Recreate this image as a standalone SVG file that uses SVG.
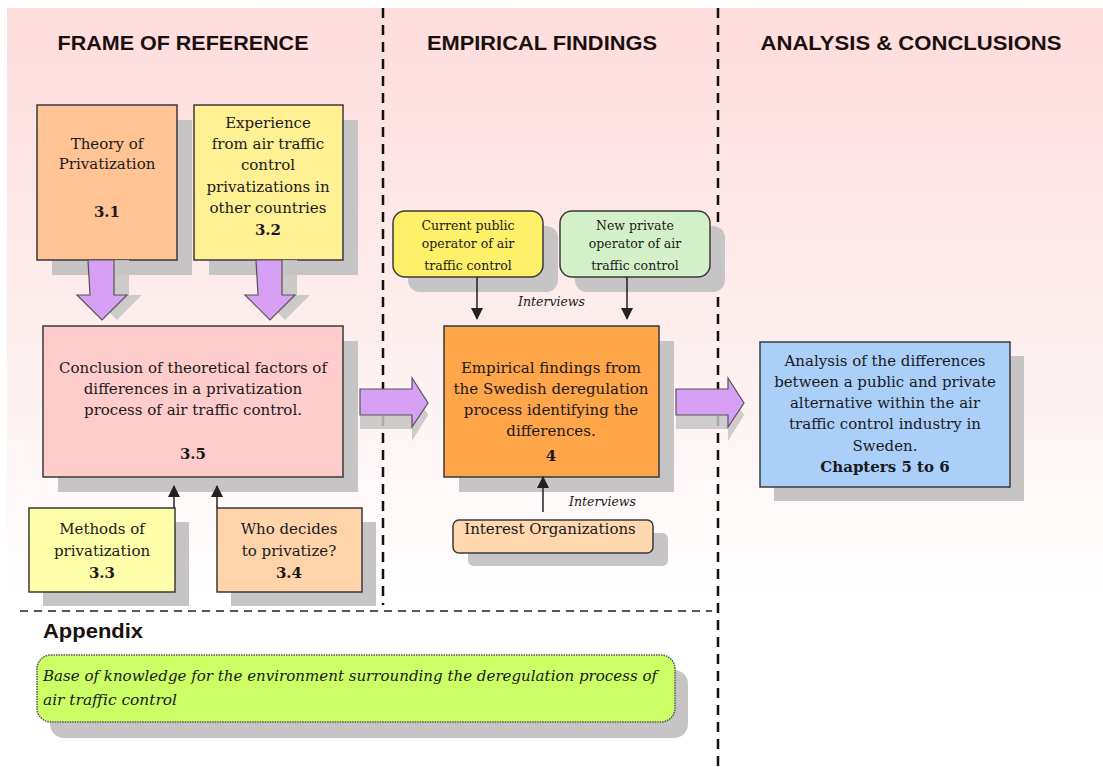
<svg xmlns="http://www.w3.org/2000/svg" width="1103" height="767" viewBox="0 0 1103 767">
<defs>
<linearGradient id="bg" x1="0" y1="8" x2="0" y2="600" gradientUnits="userSpaceOnUse">
<stop offset="0" stop-color="#fedcdc"/>
<stop offset="0.55" stop-color="#fdeeee"/>
<stop offset="1" stop-color="#ffffff"/>
</linearGradient>
<marker id="ah" viewBox="0 0 12 12" refX="11" refY="6" markerWidth="12" markerHeight="12" markerUnits="userSpaceOnUse" orient="auto">
<path d="M0,0 L12,6 L0,12 z" fill="#222"/>
</marker>
<style>
.box{stroke:#3a3a3a;stroke-width:1.5}
.sh{fill:#c6c4c4}
.t{font-family:"DejaVu Serif","Liberation Serif",serif;font-size:15px;fill:#1a1a1a;text-anchor:middle}
.ts{font-family:"DejaVu Serif","Liberation Serif",serif;font-size:12.5px;fill:#1a1a1a;text-anchor:middle}
.b{font-weight:bold}
.h{font-family:"Liberation Sans",Arial,sans-serif;font-size:21px;font-weight:bold;fill:#1a1010;text-anchor:middle}
.it{font-family:"DejaVu Serif","Liberation Serif",serif;font-style:italic;font-size:12.5px;fill:#1a1a1a}
.ia{font-family:"DejaVu Serif","Liberation Serif",serif;font-style:italic;font-size:15px;fill:#1a1a1a}
.pa{fill:#d8a0f4;stroke:#555;stroke-width:1.2}
.con{stroke:#222;stroke-width:1.5;fill:none}
.vd{stroke:#111;stroke-width:2.5;stroke-dasharray:10 7;fill:none}
.hd{stroke:#555;stroke-width:2;stroke-dasharray:8 6;fill:none}
</style>
</defs>
<rect x="0" y="0" width="1103" height="767" fill="#ffffff"/>
<rect x="7" y="8" width="1096" height="759" fill="url(#bg)"/>

<g id="section-lines">
<line class="vd" x1="383" y1="8" x2="383" y2="605"/>
<line class="vd" x1="718" y1="8" x2="718" y2="767"/>
<line class="hd" x1="20" y1="611" x2="712" y2="611"/>
</g>

<g id="headers">
<text class="h" x="183" y="50" textLength="251" lengthAdjust="spacingAndGlyphs">FRAME OF REFERENCE</text>
<text class="h" x="542" y="50" textLength="230" lengthAdjust="spacingAndGlyphs">EMPIRICAL FINDINGS</text>
<text class="h" x="911" y="50" textLength="301" lengthAdjust="spacingAndGlyphs">ANALYSIS &amp; CONCLUSIONS</text>
<text class="h" x="43" y="638" style="text-anchor:start" textLength="100" lengthAdjust="spacingAndGlyphs">Appendix</text>
</g>

<g id="theory">
<rect class="sh" x="52" y="120" width="140" height="155"/>
<rect class="box" x="37" y="105" width="140" height="155" fill="#ffc394"/>
<text class="t" x="107" y="149">Theory of</text>
<text class="t" x="107" y="169">Privatization</text>
<text class="t b" x="107" y="217">3.1</text>
</g>

<g id="experience">
<rect class="sh" x="209" y="120" width="149" height="155"/>
<rect class="box" x="194" y="105" width="149" height="155" fill="#fff094"/>
<text class="t" x="268" y="128">Experience</text>
<text class="t" x="268" y="149">from air traffic</text>
<text class="t" x="268" y="170">control</text>
<text class="t" x="268" y="192">privatizations in</text>
<text class="t" x="268" y="213">other countries</text>
<text class="t b" x="268" y="235">3.2</text>
</g>

<g id="conclusion">
<rect class="sh" x="58" y="341" width="300" height="151"/>
<rect class="box" x="43" y="326" width="300" height="151" fill="#ffcccc"/>
<text class="t" x="193" y="373">Conclusion of theoretical factors of</text>
<text class="t" x="193" y="394">differences in a privatization</text>
<text class="t" x="193" y="415">process of air traffic control.</text>
<text class="t b" x="193" y="459">3.5</text>
</g>

<g id="methods">
<rect class="sh" x="43" y="522" width="146" height="84"/>
<rect class="box" x="29" y="508" width="146" height="84" fill="#ffffaa"/>
<text class="t" x="102" y="534">Methods of</text>
<text class="t" x="102" y="556">privatization</text>
<text class="t b" x="102" y="578">3.3</text>
</g>

<g id="who-decides">
<rect class="sh" x="231" y="522" width="145" height="84"/>
<rect class="box" x="217" y="508" width="145" height="84" fill="#ffd4aa"/>
<text class="t" x="289" y="534">Who decides</text>
<text class="t" x="289" y="556">to privatize?</text>
<text class="t b" x="289" y="578">3.4</text>
</g>

<g id="current-public">
<rect class="sh" x="408" y="226" width="150" height="66" rx="12"/>
<rect class="box" x="393" y="211" width="150" height="66" rx="12" fill="#fff06a"/>
<text class="ts" x="468" y="230">Current public</text>
<text class="ts" x="468" y="248">operator of air</text>
<text class="ts" x="468" y="270">traffic control</text>
</g>

<g id="new-private">
<rect class="sh" x="575" y="226" width="150" height="66" rx="12"/>
<rect class="box" x="560" y="211" width="150" height="66" rx="12" fill="#d4f0c8"/>
<text class="ts" x="635" y="230">New private</text>
<text class="ts" x="635" y="248">operator of air</text>
<text class="ts" x="635" y="270">traffic control</text>
</g>

<g id="empirical">
<rect class="sh" x="459" y="341" width="215" height="151"/>
<rect class="box" x="444" y="326" width="215" height="151" fill="#ffa54a"/>
<text class="t" x="551" y="373">Empirical findings from</text>
<text class="t" x="551" y="394">the Swedish deregulation</text>
<text class="t" x="551" y="415">process identifying the</text>
<text class="t" x="551" y="436">differences.</text>
<text class="t b" x="551" y="461">4</text>
</g>

<g id="interest-org">
<rect class="sh" x="468" y="533" width="200" height="33" rx="6"/>
<rect class="box" x="453" y="520" width="200" height="33" rx="6" fill="#ffd8b0"/>
<text class="t" x="550" y="534">Interest Organizations</text>
</g>

<g id="analysis">
<rect class="sh" x="774" y="356" width="250" height="145"/>
<rect class="box" x="760" y="342" width="250" height="145" fill="#aad0fa"/>
<text class="t" x="885" y="366">Analysis of the differences</text>
<text class="t" x="885" y="387">between a public and private</text>
<text class="t" x="885" y="408">alternative within the air</text>
<text class="t" x="885" y="429">traffic control industry in</text>
<text class="t" x="885" y="451">Sweden.</text>
<text class="t b" x="885" y="472">Chapters 5 to 6</text>
</g>

<g id="appendix">
<rect class="sh" x="50" y="670" width="638" height="68" rx="14"/>
<rect x="37" y="655" width="638" height="67" rx="14" fill="#ccff66" stroke="#555" stroke-width="1.5" stroke-dasharray="1.5 1"/>
<text class="ia" x="43" y="681" textLength="614" lengthAdjust="spacingAndGlyphs">Base of knowledge for the environment surrounding the deregulation process of</text>
<text class="ia" x="43" y="705" textLength="134" lengthAdjust="spacingAndGlyphs">air traffic control</text>
</g>

<g id="connectors">
<g fill="#c6c4c4" opacity="0.85">
<path d="M103,260 h26 v35 h13 l-25,25 l-25,-25 h13 z"/>
<path d="M271,260 h26 v35 h13 l-25,25 l-25,-25 h13 z"/>
<path d="M360,400 h52 v-11 l16,26 l-16,26 v-12 h-52 z"/>
<path d="M676,400 h52 v-11 l16,26 l-16,26 v-12 h-52 z"/>
</g>
<path class="pa" d="M88,260 h26 v35 h13 l-25,25 l-25,-25 h13 z"/>
<path class="pa" d="M256,260 h26 v35 h13 l-25,25 l-25,-25 h13 z"/>
<path class="pa" d="M360,389 h52 v-11 l16,25 l-16,24 v-12 h-52 z"/>
<path class="pa" d="M676,389 h52 v-11 l16,25 l-16,24 v-12 h-52 z"/>
<line class="con" x1="477" y1="277" x2="477" y2="319" marker-end="url(#ah)"/>
<line class="con" x1="627" y1="277" x2="627" y2="319" marker-end="url(#ah)"/>
<line class="con" x1="543" y1="512" x2="543" y2="477" marker-end="url(#ah)"/>
<line class="con" x1="174" y1="508" x2="174" y2="486" marker-end="url(#ah)"/>
<line class="con" x1="217" y1="508" x2="217" y2="486" marker-end="url(#ah)"/>
<text class="it" x="518" y="306">Interviews</text>
<text class="it" x="569" y="506">Interviews</text>
</g>
</svg>
